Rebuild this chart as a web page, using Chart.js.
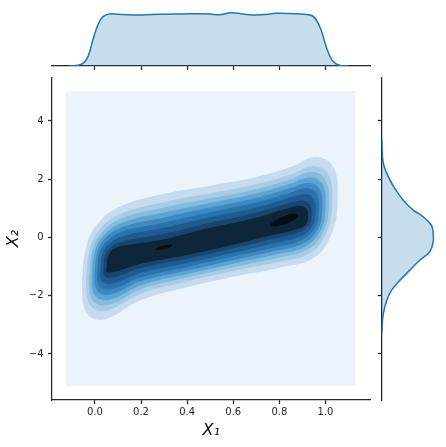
<!DOCTYPE html>
<html><head><meta charset="utf-8">
<script src="https://cdn.jsdelivr.net/npm/chart.js@4.4.1/dist/chart.umd.min.js"></script>
<style>
html,body{margin:0;padding:0;background:#fff;}
.wrap{position:absolute;left:0;top:0;width:446px;height:447px;}
</style></head><body>
<div class="wrap"><canvas id="main"></canvas></div>
<div class="wrap"><canvas id="topm"></canvas></div>
<div class="wrap"><canvas id="rightm"></canvas></div>
<script>
// ---- axis ranges & ticks ----
const xRange = [-0.186, 1.195];
const yRange = [-5.58, 5.50];
const xTicks = [0, 0.2, 0.4, 0.6, 0.8, 1.0];
const yTicks = [-4, -2, 0, 2, 4];

// ---- contour fill colours (lowest level first) ----
const levelColors = ['#ebf3fb','#c6dbef','#a7cde6','#84bbde','#5ea3d2','#3d8ac3','#2a72ad','#205b8f','#194670','#0d2639','#040d16'];

// ---- lowest level: the KDE grid rectangle ----
const bgX = [-0.127, 1.13, 1.13, -0.127];
const bgY = [-5.1, -5.1, 5.03, 5.03];

// ---- contour outlines (data coordinates) ----
const c1x = [-0.057,-0.04,0.0,0.1,0.3,0.5,0.7,0.85,0.96,1.035,1.052,1.03,0.95,0.8,0.6,0.4,0.2,0.05,-0.02,-0.05];
const c1y = [-1.5,-0.4,0.35,1.03,1.50,1.78,2.08,2.42,2.76,2.4,1.3,0.2,-0.7,-1.04,-1.35,-1.71,-2.15,-2.8,-2.72,-2.3];
const c2x = [-0.038,-0.023,0.015,0.107,0.3,0.5,0.7,0.85,0.949,1.014,1.029,1.008,0.934,0.791,0.6,0.4,0.2,0.059,-0.005,-0.032];
const c2y = [-1.42,-0.445,0.219,0.798,1.219,1.519,1.828,2.17,2.456,2.139,1.192,0.236,-0.529,-0.844,-1.152,-1.51,-1.925,-2.503,-2.446,-2.093];
const c3x = [-0.025,-0.011,0.026,0.112,0.3,0.5,0.7,0.85,0.942,1.0,1.014,0.994,0.923,0.785,0.6,0.4,0.2,0.065,0.006,-0.02];
const c3y = [-1.37,-0.475,0.131,0.643,1.032,1.345,1.66,2.003,2.253,1.965,1.12,0.26,-0.415,-0.713,-1.02,-1.377,-1.775,-2.305,-2.264,-1.955];
const c4x = [-0.014,-0.001,0.035,0.116,0.3,0.5,0.7,0.85,0.935,0.988,1.0,0.981,0.913,0.78,0.6,0.4,0.2,0.071,0.015,-0.009];
const c4y = [-1.32,-0.50,0.051,0.501,0.86,1.186,1.506,1.85,2.067,1.806,1.054,0.282,-0.31,-0.593,-0.899,-1.255,-1.638,-2.124,-2.097,-1.829];
const c5x = [-0.002,0.010,0.044,0.121,0.3,0.5,0.7,0.85,0.929,0.975,0.986,0.968,0.903,0.774,0.6,0.4,0.2,0.076,0.024,0.002];
const c5y = [-1.27,-0.53,-0.03,0.359,0.689,1.026,1.352,1.697,1.881,1.646,0.988,0.304,-0.206,-0.473,-0.778,-1.133,-1.5,-1.942,-1.93,-1.702];
const c6x = [0.010,0.020,0.054,0.125,0.3,0.5,0.7,0.85,0.922,0.963,0.972,0.954,0.893,0.769,0.6,0.4,0.2,0.082,0.034,0.013];
const c6y = [-1.22,-0.558,-0.11,0.217,0.517,0.867,1.198,1.544,1.695,1.487,0.922,0.326,-0.101,-0.353,-0.657,-1.01,-1.363,-1.761,-1.762,-1.576];
const c7x = [0.023,0.032,0.064,0.13,0.3,0.5,0.7,0.85,0.915,0.949,0.957,0.94,0.883,0.763,0.6,0.4,0.2,0.088,0.044,0.025];
const c7y = [-1.16,-0.588,-0.198,0.063,0.33,0.693,1.03,1.378,1.493,1.313,0.85,0.35,0.013,-0.223,-0.525,-0.878,-1.213,-1.563,-1.58,-1.438];
const c8x = [0.036,0.044,0.075,0.135,0.3,0.5,0.7,0.85,0.907,0.934,0.94,0.924,0.871,0.756,0.6,0.4,0.2,0.094,0.055,0.038];
const c8y = [-1.10,-0.62,-0.292,-0.105,0.127,0.504,0.848,1.197,1.273,1.124,0.772,0.376,0.136,-0.081,-0.382,-0.733,-1.05,-1.348,-1.382,-1.288];
const c9x = [0.052,0.056,0.085,0.14,0.3,0.5,0.7,0.85,0.9,0.92,0.925,0.91,0.86,0.75,0.6,0.4,0.2,0.1,0.065,0.05];
const c9y = [-1.0,-0.65,-0.38,-0.26,-0.06,0.33,0.68,1.03,1.07,0.95,0.7,0.4,0.25,0.05,-0.25,-0.6,-0.9,-1.15,-1.2,-1.15];
const p1x = [0.258,0.28,0.31,0.335,0.332,0.30,0.27];
const p1y = [-0.41,-0.32,-0.26,-0.25,-0.31,-0.40,-0.43];
const p2x = [0.762,0.79,0.835,0.875,0.88,0.845,0.795,0.768];
const p2y = [0.47,0.62,0.78,0.79,0.70,0.52,0.40,0.40];

// ---- marginal densities ----
const x1Grid = [-0.11,-0.095,-0.075,-0.052,-0.03,-0.009,0.013,0.035,0.064,0.12,0.18,0.25,0.31,0.38,0.454,0.50,0.54,0.591,0.642,0.70,0.75,0.786,0.83,0.873,0.938,0.96,0.981,1.003,1.025,1.046,1.065,1.083,1.10];
const x1Density = [0,0.002,0.015,0.05,0.18,0.5,0.79,0.95,1.0,0.99,0.98,0.99,0.995,1.0,1.005,1.0,0.985,1.025,1.0,0.98,0.995,1.013,1.01,1.005,0.975,0.885,0.69,0.37,0.13,0.04,0.01,0,0];
const x2Grid = [-3.3,-3.07,-2.61,-2.16,-1.81,-1.47,-1.12,-0.78,-0.49,-0.15,0.14,0.42,0.71,0.94,1.28,1.68,2.08,2.54,3.11,3.4];
const x2Density = [0,0.002,0.013,0.039,0.077,0.142,0.219,0.296,0.374,0.40,0.40,0.387,0.323,0.245,0.168,0.103,0.052,0.013,0.002,0];

const INK = '#262626';
const FONT = "'DejaVu Sans', sans-serif";
const KDE_LINE = '#1f77b4';
const KDE_FILL = 'rgba(31,119,180,0.25)';
Chart.defaults.font.family = FONT;
Chart.defaults.animation = false;

function poly(xs, ys) {
  const pts = xs.map((x, i) => ({x: x, y: ys[i]}));
  pts.push({x: xs[0], y: ys[0]});
  return pts;
}
const shapes = [
  [bgX, bgY, 0, 0],
  [c1x, c1y, 1, 0.4], [c2x, c2y, 2, 0.4], [c3x, c3y, 3, 0.4],
  [c4x, c4y, 4, 0.4], [c5x, c5y, 5, 0.4], [c6x, c6y, 6, 0.4],
  [c7x, c7y, 7, 0.4], [c8x, c8y, 8, 0.4], [c9x, c9y, 9, 0.4],
  [p1x, p1y, 10, 0.4], [p2x, p2y, 10, 0.4]
];
const mainSets = shapes.map((s, i) => ({
  data: poly(s[0], s[1]),
  backgroundColor: levelColors[s[2]],
  borderWidth: 0, pointRadius: 0, pointHoverRadius: 0,
  fill: 'shape', tension: s[3],
  order: shapes.length - i
}));

const noPlugins = {legend: {display: false}, tooltip: {enabled: false}};
const setXTicks = s => { s.ticks = xTicks.map(v => ({value: v})); };
const setYTicks = s => { s.ticks = yTicks.map(v => ({value: v})); };
const gridTicks = {drawOnChartArea: false, drawTicks: true, tickLength: 4, tickWidth: 1.25, tickColor: INK};
const spine = {display: true, color: INK, width: 1.25};

new Chart(document.getElementById('main'), {
  type: 'line',
  data: {datasets: mainSets},
  options: {
    responsive: true, maintainAspectRatio: false, devicePixelRatio: 1,
    events: [],
    layout: {padding: {left: 0, right: 75.5, top: 77.3, bottom: 0}},
    plugins: noPlugins,
    scales: {
      x: {
        type: 'linear', min: xRange[0], max: xRange[1],
        afterBuildTicks: setXTicks,
        afterFit: s => { s.height = 47; },
        grid: gridTicks, border: spine,
        ticks: {color: INK, font: {size: 10}, padding: 2, autoSkip: false, maxRotation: 0,
                callback: v => Number(v).toFixed(1)},
        title: {display: true, text: 'X\u2081', color: '#111', font: {size: 16, style: 'italic'},
                padding: {top: 0, bottom: 7}}
      },
      y: {
        type: 'linear', min: yRange[0], max: yRange[1],
        afterBuildTicks: setYTicks,
        afterFit: s => { s.width = 52; },
        grid: gridTicks, border: spine,
        ticks: {color: INK, font: {size: 10}, padding: 4.5, autoSkip: false,
                callback: v => (v < 0 ? '\u2212' : '') + Math.abs(v)},
        title: {display: true, text: 'X\u2082', color: '#111', font: {size: 16, style: 'italic'},
                padding: {top: 4, bottom: 0}}
      }
    }
  }
});

new Chart(document.getElementById('topm'), {
  type: 'line',
  data: {datasets: [{
    data: x1Grid.map((x, i) => ({x: x, y: x1Density[i]})),
    borderColor: KDE_LINE, borderWidth: 1.5, backgroundColor: KDE_FILL,
    fill: 'origin', tension: 0.4, pointRadius: 0, pointHoverRadius: 0
  }]},
  options: {
    responsive: true, maintainAspectRatio: false, devicePixelRatio: 1,
    events: [],
    layout: {padding: {left: 52, right: 75.5, top: 1.5, bottom: 377}},
    plugins: noPlugins,
    scales: {
      x: {type: 'linear', min: xRange[0], max: xRange[1],
          afterBuildTicks: setXTicks, afterFit: s => { s.height = 4; },
          grid: gridTicks, border: spine, ticks: {display: false}},
      y: {type: 'linear', display: false, min: 0, max: 1.24}
    }
  }
});

new Chart(document.getElementById('rightm'), {
  type: 'line',
  data: {datasets: [{
    data: x2Grid.map((y, i) => ({x: x2Density[i], y: y})),
    borderColor: KDE_LINE, borderWidth: 1.5, backgroundColor: KDE_FILL,
    fill: 'shape', tension: 0.4, pointRadius: 0, pointHoverRadius: 0
  }]},
  options: {
    responsive: true, maintainAspectRatio: false, devicePixelRatio: 1,
    events: [],
    layout: {padding: {left: 377.7, right: 0, top: 77.3, bottom: 47}},
    plugins: noPlugins,
    scales: {
      x: {type: 'linear', display: false, min: 0, max: 0.5},
      y: {type: 'linear', position: 'left', min: yRange[0], max: yRange[1],
          afterBuildTicks: setYTicks, afterFit: s => { s.width = 4; },
          grid: gridTicks, border: spine, ticks: {display: false}}
    }
  }
});
</script></body></html>
